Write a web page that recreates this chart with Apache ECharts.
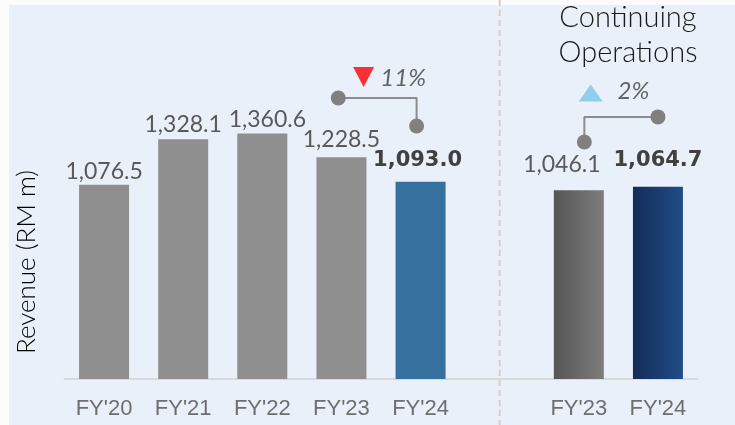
<!DOCTYPE html>
<html>
<head>
<meta charset="utf-8">
<script src="https://cdn.jsdelivr.net/npm/echarts@6/dist/echarts.min.js"></script>
<style>
	html,body{margin:0;padding:0;background:#fcfcfc;}
	#revenueChart{width:735px;height:425px;}
</style>
</head>
<body>
<div id="revenueChart"></div>
<script>
// 数据
var years = ["FY'20", "FY'21", "FY'22", "FY'23", "FY'24"];
var revenue = [1076.5, 1328.1, 1360.6, 1228.5, 1093.0];
var contYears = ["FY'23", "FY'24"];
var contRevenue = [1046.1, 1064.7];
var changeAll = '11%';
var changeCont = '2%';

// 标注位置（数据坐标）
var linkAll = [[2.96, 1557], [3.95, 1557], [3.95, 1402]];
var linkCont = [[6.07, 1313], [6.07, 1452], [7.0, 1452]];
var labelShift = [[0, 0], [0, -1.5], [5, -0.5], [0, -4.5], [-3, -8.5], [-17, -12.5], [0, -13.5]];

var categories = years.concat([''], contYears);
var values = revenue.concat(['-'], contRevenue);

var GREY = '#8f8f8f';
var textFont = 'Lato';

function fmt(v) {
	return v.toLocaleString('en-US', {minimumFractionDigits: 1, maximumFractionDigits: 1});
}

var barData = [];
var k = 0;
values.forEach(function (v, i) {
	if (v === '-') { barData.push('-'); return; }
	var isLast24 = (i === years.length - 1) || (i === categories.length - 1);
	var color = GREY;
	if (i === years.length - 1) color = '#35709e';
	if (i === years.length + 1) color = new echarts.graphic.LinearGradient(0, 0, 1, 0, [
		{offset: 0, color: '#555555'}, {offset: 1, color: '#7d7d7d'}]);
	if (i === categories.length - 1) color = new echarts.graphic.LinearGradient(0, 0, 1, 0, [
		{offset: 0, color: '#142c58'}, {offset: 1, color: '#204c88'}]);
	barData.push({
		value: v,
		itemStyle: {color: color},
		label: {
			offset: labelShift[k],
			fontFamily: isLast24 ? 'DejaVu Sans' : textFont,
			fontWeight: isLast24 ? 'bold' : 'normal',
			fontSize: isLast24 ? 21 : 23,
			color: isLast24 ? '#404040' : '#595959'
		}
	});
	k++;
});

function linkData(pts) {
	return pts.map(function (p, i) {
		return (i === 1) ? {value: p, symbol: 'none'} : {value: p};
	});
}

var chart = echarts.init(document.getElementById('revenueChart'));
chart.setOption({
	animation: false,
	grid: {left: 64.5, right: 37.5, top: 18, bottom: 46},
	xAxis: [{
		type: 'category',
		data: categories,
		axisTick: {show: false},
		axisLine: {lineStyle: {color: '#d9d9d9', width: 2}},
		axisLabel: {
			margin: 19,
			fontFamily: 'Liberation Sans',
			fontSize: 22,
			color: '#6e6e6e'
		}
	}, {
		type: 'value',
		min: -0.5,
		max: 7.5,
		show: false
	}],
	yAxis: {
		type: 'value',
		min: 0,
		max: 2000,
		show: false
	},
	series: [{
		type: 'bar',
		barWidth: 50,
		data: barData,
		label: {
			show: true,
			position: 'top',
			distance: 2,
			formatter: function (p) { return fmt(p.value); }
		}
	}, {
		type: 'line',
		xAxisIndex: 1,
		data: linkData(linkAll),
		symbol: 'circle',
		symbolSize: 15,
		showSymbol: true,
		itemStyle: {color: '#808080'},
		lineStyle: {color: '#8c8c8c', width: 2}
	}, {
		type: 'line',
		xAxisIndex: 1,
		data: linkData(linkCont),
		symbol: 'circle',
		symbolSize: 15,
		showSymbol: true,
		itemStyle: {color: '#808080'},
		lineStyle: {color: '#8c8c8c', width: 2}
	}, {
		type: 'scatter',
		xAxisIndex: 1,
		data: [
			{value: [3.28, 1673], symbol: 'triangle', symbolRotate: 180, symbolSize: [21, 20], itemStyle: {color: '#ff0000'}},
			{value: [6.15, 1584], symbol: 'triangle', symbolSize: [24, 17], itemStyle: {color: '#7cc4e9'}}
		]
	}, {
		type: 'scatter',
		xAxisIndex: 1,
		symbolSize: 1,
		itemStyle: {color: 'transparent'},
		data: [
			{value: [3.78, 1665], name: changeAll},
			{value: [6.69, 1596], name: changeCont}
		],
		label: {
			show: true,
			position: 'inside',
			formatter: '{b}',
			fontFamily: textFont,
			fontStyle: 'italic',
			fontSize: 24,
			color: '#404040'
		}
	}],
	graphic: [{
		type: 'rect',
		z: -10,
		shape: {x: 9, y: 5, width: 726, height: 420},
		style: {fill: '#e9f0fa'}
	}, {
		type: 'text',
		x: 27,
		y: 262,
		rotation: Math.PI / 2,
		style: {
			text: 'Revenue (RM m)',
			fontFamily: textFont,
			fontWeight: 300,
			fontSize: 26,
			fill: '#000000',
			align: 'center',
			verticalAlign: 'middle'
		}
	}, {
		type: 'text',
		x: 628,
		y: 0,
		style: {
			text: 'Continuing\nOperations',
			fontFamily: textFont,
			fontWeight: 300,
			fontSize: 29,
			lineHeight: 35,
			fill: '#1a1a1a',
			align: 'center',
			verticalAlign: 'top'
		}
	}]
});

// 分隔虚线
var sepX = chart.convertToPixel({xAxisIndex: 1}, years.length);
chart.setOption({
	graphic: [{}, {}, {}, {
		type: 'line',
		z: -5,
		shape: {x1: sepX, y1: 0, x2: sepX, y2: 425},
		style: {stroke: '#d8d0c6', lineWidth: 2, lineDash: [6, 4]}
	}]
});
</script>
</body>
</html>
